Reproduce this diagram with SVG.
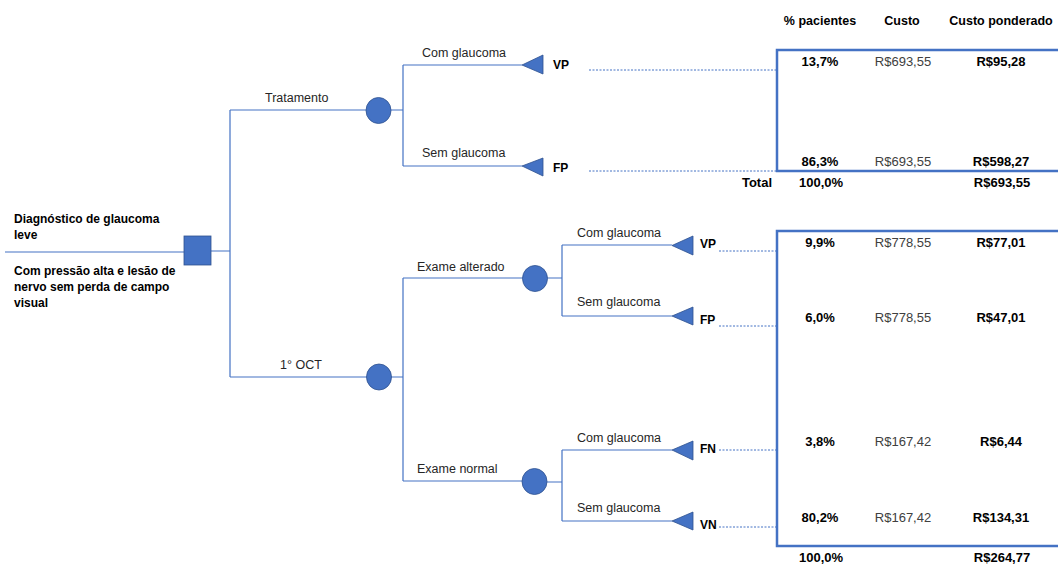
<svg xmlns="http://www.w3.org/2000/svg" width="1058" height="564" viewBox="0 0 1058 564">
<style>
.ln{fill:none;stroke:#4472C4;stroke-width:1.2}
.dot{fill:none;stroke:#4472C4;stroke-width:1;stroke-dasharray:2,1.5}
.box{fill:none;stroke:#4472C4;stroke-width:2.5}
.shape{fill:#4472C4;stroke:#2F528F;stroke-width:0.8}
.lbl{font-family:"Liberation Sans",Arial,sans-serif;font-size:12.5px;fill:#262626}
.b{font-family:"Liberation Sans",Arial,sans-serif;font-size:12px;font-weight:bold;fill:#000}
.h{font-family:"Liberation Sans",Arial,sans-serif;font-size:12.5px;font-weight:bold;fill:#000;text-anchor:middle}
.v{font-family:"Liberation Sans",Arial,sans-serif;font-size:13px;font-weight:bold;fill:#000;text-anchor:middle}
.c{font-family:"Liberation Sans",Arial,sans-serif;font-size:13px;fill:#404040;text-anchor:middle}
</style>
<g id="connectors">
<path class="ln" d="M5 252 H184 M211 251 H230 M230 110 V377 M230 110 H366 M230 377 H367"/>
<path class="ln" d="M391 110 H403 M403 65 V166 M403 65 H522 M403 166 H522"/>
<path class="ln" d="M391 377 H403 M403 278 V481 M403 278 H523 M403 481 H522"/>
<path class="ln" d="M547 278 H562 M562 245 V316 M562 245 H672 M562 316 H672"/>
<path class="ln" d="M547 482 H562 M562 450 V521 M562 450 H672 M562 521 H672"/>
<path class="dot" d="M589 70 H777 M589 171 H777 M719 251 H777 M719 326 H777 M719 450 H777 M719 527 H777"/>
</g>
<g id="decision"><rect class="shape" x="184" y="236" width="27" height="29"/></g>
<g id="chance-tratamento"><ellipse class="shape" cx="378.5" cy="110.5" rx="12.5" ry="13"/></g>
<g id="chance-oct"><ellipse class="shape" cx="379" cy="377" rx="12.5" ry="13"/></g>
<g id="chance-alterado"><ellipse class="shape" cx="535" cy="278.5" rx="12.5" ry="13"/></g>
<g id="chance-normal"><ellipse class="shape" cx="534.5" cy="481.5" rx="12.5" ry="13"/></g>
<g id="term-vp1"><polygon class="shape" points="522,65 543,55 543,74"/><text class="b" x="553" y="69">VP</text></g>
<g id="term-fp1"><polygon class="shape" points="522,166 543,158 543,176"/><text class="b" x="553" y="172">FP</text></g>
<g id="term-vp2"><polygon class="shape" points="672,245.5 693,236 693,255"/><text class="b" x="700" y="248">VP</text></g>
<g id="term-fp2"><polygon class="shape" points="672,316 693,307 693,325"/><text class="b" x="700" y="324">FP</text></g>
<g id="term-fn"><polygon class="shape" points="672,450 693,441 693,460"/><text class="b" x="700" y="453">FN</text></g>
<g id="term-vn"><polygon class="shape" points="672,521 693,512 693,530"/><text class="b" x="700" y="529">VN</text></g>
<g id="labels">
<text class="b" x="14" y="223">Diagnóstico de glaucoma</text>
<text class="b" x="14" y="239">leve</text>
<text class="b" x="14" y="275">Com pressão alta e lesão de</text>
<text class="b" x="14" y="291">nervo sem perda de campo</text>
<text class="b" x="14" y="307">visual</text>
<text class="lbl" x="265" y="102">Tratamento</text>
<text class="lbl" x="280" y="369">1° OCT</text>
<text class="lbl" x="422" y="57">Com glaucoma</text>
<text class="lbl" x="422" y="157">Sem glaucoma</text>
<text class="lbl" x="417" y="271">Exame alterado</text>
<text class="lbl" x="417" y="473">Exame normal</text>
<text class="lbl" x="577" y="237">Com glaucoma</text>
<text class="lbl" x="577" y="306">Sem glaucoma</text>
<text class="lbl" x="577" y="442">Com glaucoma</text>
<text class="lbl" x="577" y="512">Sem glaucoma</text>
</g>
<g id="table-header">
<text class="h" x="820" y="25">% pacientes</text>
<text class="h" x="902" y="25">Custo</text>
<text class="h" x="1001" y="25">Custo ponderado</text>
</g>
<g id="table-tratamento">
<rect class="box" x="777" y="50" width="300" height="121"/>
<text class="v" x="820" y="66">13,7%</text><text class="c" x="903" y="66">R$693,55</text><text class="v" x="1001" y="66">R$95,28</text>
<text class="v" x="820" y="166">86,3%</text><text class="c" x="903" y="166">R$693,55</text><text class="v" x="1001" y="166">R$598,27</text>
<text class="v" x="757" y="187">Total</text><text class="v" x="821" y="187">100,0%</text><text class="v" x="1002" y="187">R$693,55</text>
</g>
<g id="table-oct">
<rect class="box" x="777" y="231" width="300" height="315"/>
<text class="v" x="820" y="247">9,9%</text><text class="c" x="903" y="247">R$778,55</text><text class="v" x="1001" y="247">R$77,01</text>
<text class="v" x="820" y="322">6,0%</text><text class="c" x="903" y="322">R$778,55</text><text class="v" x="1001" y="322">R$47,01</text>
<text class="v" x="820" y="446">3,8%</text><text class="c" x="903" y="446">R$167,42</text><text class="v" x="1001" y="446">R$6,44</text>
<text class="v" x="820" y="522">80,2%</text><text class="c" x="903" y="522">R$167,42</text><text class="v" x="1001" y="522">R$134,31</text>
<text class="v" x="821" y="562">100,0%</text><text class="v" x="1002" y="562">R$264,77</text>
</g>
</svg>
